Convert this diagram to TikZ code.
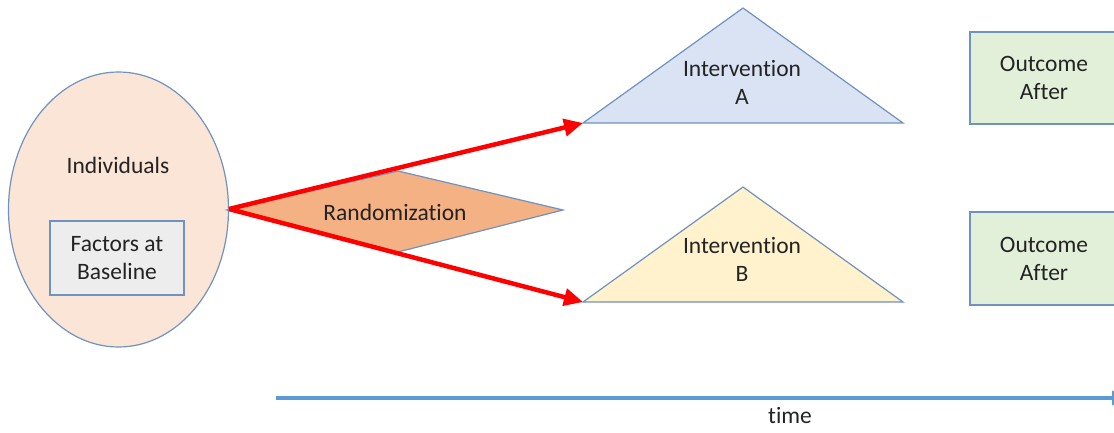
\documentclass[tikz,border=0pt]{standalone}
\usepackage{fontspec}
\setmainfont{Carlito}[RawFeature={-liga}]
\usetikzlibrary{arrows.meta,shapes.geometric}
\definecolor{edgeblue}{RGB}{112,146,190}
\definecolor{peach}{RGB}{251,229,214}
\definecolor{boxgray}{RGB}{237,237,237}
\definecolor{orangefill}{RGB}{244,177,131}
\definecolor{bluefill}{RGB}{218,227,243}
\definecolor{yellowfill}{RGB}{255,242,204}
\definecolor{greenfill}{RGB}{226,240,217}
\definecolor{timeblue}{RGB}{91,155,213}
\definecolor{txt}{RGB}{35,35,35}
\tikzset{
  shapeline/.style={draw=edgeblue, line width=1.2pt},
  lbl/.style={align=center, text=txt, font=\fontsize{23.5}{28}\selectfont, inner sep=0pt},
  redarrow/.style={draw=red, line width=4.5pt, -{Triangle[length=19pt,width=17pt]}},
}
\begin{document}
\begin{tikzpicture}[x=1pt,y=-1pt]
\useasboundingbox (0,0) rectangle (1114,433);

% population ellipse with baseline box
\node[ellipse, shapeline, fill=peach, minimum width=220pt, minimum height=275pt, inner sep=0pt] (indiv) at (118.5,209.5) {};
\node[lbl] (indivtxt) at (118,165) {Individuals};
\node[shapeline, fill=boxgray, minimum width=134pt, minimum height=74pt, lbl] (factors) at (117,258) {Factors at\\Baseline};

% randomization kite
\coordinate (rl) at (227,210);
\coordinate (rt) at (398,171);
\coordinate (rr) at (563,210);
\coordinate (rb) at (398,252);
\draw[shapeline, fill=orangefill] (rl) -- (rt) -- (rr) -- (rb) -- cycle;
\node[lbl] (rand) at (395,212) {Randomization};

% intervention triangles
\coordinate (al) at (583,123);
\coordinate (aa) at (743,8);
\coordinate (ar) at (903,123);
\draw[shapeline, fill=bluefill] (al) -- (aa) -- (ar) -- cycle;
\node[lbl] (inta) at (742,82) {Intervention\\A};

\coordinate (bl) at (583,302);
\coordinate (ba) at (743,187);
\coordinate (br) at (903,302);
\draw[shapeline, fill=yellowfill] (bl) -- (ba) -- (br) -- cycle;
\node[lbl] (intb) at (742,259) {Intervention\\B};

% outcome boxes
\node[shapeline, fill=greenfill, minimum width=148pt, minimum height=92pt, lbl] (outa) at (1044,78) {Outcome\\After};
\node[shapeline, fill=greenfill, minimum width=148pt, minimum height=93pt, lbl] (outb) at (1044,258.5) {Outcome\\After};

% allocation arrows
\coordinate (split) at (229,209);
\draw[redarrow] (split) -- (al);
\draw[redarrow] (split) -- (bl);

% time axis
\coordinate (t0) at (276,398);
\coordinate (t1) at (1126,398);
\draw[draw=timeblue, line width=4pt, -{Triangle[length=14pt,width=14pt]}] (t0) -- (t1);
\node[lbl] (time) at (790,415) {time};
\end{tikzpicture}
\end{document}
